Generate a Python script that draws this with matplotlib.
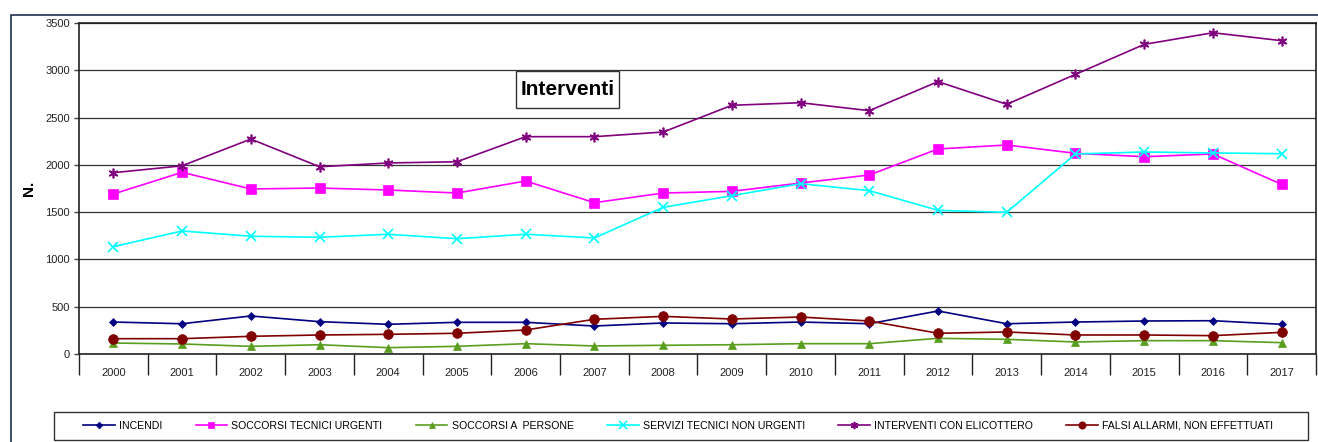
import matplotlib
matplotlib.use("Agg")
import matplotlib.pyplot as plt
from matplotlib.patches import Rectangle

plt.rcParams['font.family'] = ['Liberation Sans', 'DejaVu Sans']

years = [str(y) for y in range(2000, 2018)]

incendi = [338, 320, 402, 342, 314, 335, 335, 296, 328, 320, 338, 320, 455, 320, 338, 349, 352, 314]
soccorsi_tecnici = [1692, 1921, 1745, 1755, 1734, 1702, 1829, 1600, 1702, 1720, 1808, 1893, 2168, 2210, 2122, 2086, 2115, 1794]
soccorsi_persone = [116, 106, 81, 98, 67, 81, 109, 85, 92, 98, 109, 109, 166, 155, 127, 141, 141, 120]
servizi_non_urgenti = [1135, 1301, 1245, 1234, 1266, 1219, 1266, 1227, 1551, 1674, 1801, 1727, 1519, 1498, 2115, 2136, 2126, 2118]
elicottero = [1917, 1990, 2273, 1980, 2020, 2033, 2298, 2298, 2347, 2630, 2657, 2573, 2880, 2640, 2957, 3274, 3397, 3313]
falsi_allarmi = [162, 162, 187, 201, 208, 219, 254, 367, 398, 370, 391, 349, 219, 233, 201, 201, 194, 229]

series = [
    ("INCENDI", incendi, "#000080", "D", 4.5),
    ("SOCCORSI TECNICI URGENTI", soccorsi_tecnici, "#FF00FF", "s", 6.5),
    ("SOCCORSI A  PERSONE", soccorsi_persone, "#5A9E1F", "^", 6),
    ("SERVIZI TECNICI NON URGENTI", servizi_non_urgenti, "#00FFFF", "x", 7),
    ("INTERVENTI CON ELICOTTERO", elicottero, "#800080", (6, 2, 0), 7),
    ("FALSI ALLARMI, NON EFFETTUATI", falsi_allarmi, "#800000", "o", 7),
]

W, H = 1318, 442
fig = plt.figure(figsize=(W / 100, H / 100), dpi=100)
ax = fig.add_axes([79 / W, (H - 354) / H, 1237 / W, 331 / H])

x = list(range(len(years)))
for label, vals, color, marker, ms in series:
    ax.plot(x, vals, color=color, marker=marker, markersize=ms, linewidth=1.2,
            markeredgewidth=1.2 if marker in ("x", (6, 2, 0)) else 0.5,
            markeredgecolor=color, label=label)

ax.set_ylim(0, 3500)
ax.set_yticks(range(0, 3501, 500))
ax.set_xlim(-0.5, len(years) - 0.5)
ax.set_xticks(x)
ax.set_xticklabels(years)
ax.set_xticks([i - 0.5 for i in range(len(years) + 1)], minor=True)
ax.tick_params(axis="x", which="major", length=0, pad=10, labelsize=8, labelcolor="#222222")
ax.tick_params(axis="x", which="minor", length=15, width=1, color="#222222")
ax.tick_params(axis="y", length=3.5, width=1, color="#444444", labelsize=8,
               labelcolor="#222222", pad=3)
ax.yaxis.grid(True, color="#333333", linewidth=0.9)
ax.set_axisbelow(True)
for s in ax.spines.values():
    s.set_color("#222222")
    s.set_linewidth(1.2)

ax.set_ylabel("N.", fontsize=11, fontweight="bold", labelpad=7)

# chart title in its own box
fig.patches.append(Rectangle((516 / W, (H - 108) / H), 103 / W, 37 / H, transform=fig.transFigure,
                             facecolor="white", edgecolor="#333333", linewidth=1, zorder=5))
fig.text(567.5 / W, (H - 89.5) / H, "Interventi", fontsize=15, fontweight="bold",
         ha="center", va="center", zorder=6)

# outer chart frame and legend box
fig.patches.append(Rectangle((11 / W, -0.01), 1.0, (H - 15) / H + 0.01, transform=fig.transFigure,
                             fill=False, edgecolor="#1F2F4F", linewidth=1.2))
fig.patches.append(Rectangle((54 / W, 2 / H), 1254 / W, 28 / H, transform=fig.transFigure,
                             fill=False, edgecolor="#333333", linewidth=1))

fig.legend(loc="center left", bbox_to_anchor=(83 / W, (H - 426) / H), ncol=6,
           frameon=False, fontsize=7.6, handlelength=3.0, handletextpad=0.4,
           columnspacing=3.15, borderpad=0, borderaxespad=0, markerscale=0.75)

fig.savefig("out.png", dpi=100)
